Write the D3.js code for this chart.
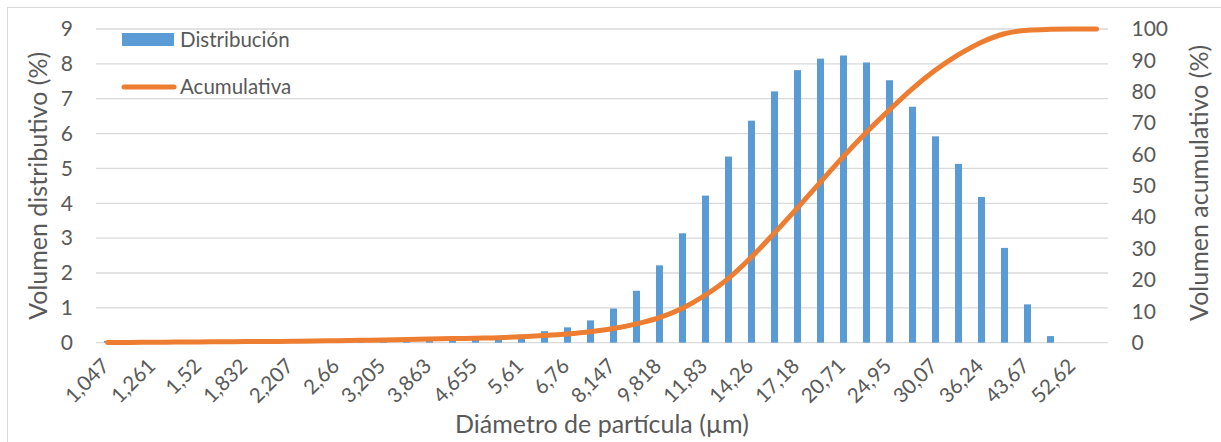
<!DOCTYPE html>
<html>
<head>
<meta charset="utf-8">
<script src="https://cdn.jsdelivr.net/npm/d3@7"></script>
<style>
  body { margin: 0; background: #fff; }
  text { font-family: Lato, "Open Sans", sans-serif; fill: #595959; }
</style>
</head>
<body>
<svg id="chart" width="1221" height="442"></svg>
<script>
// Particle size classes (µm)
const diameters = [
  "1,047", "1,149", "1,261", "1,384", "1,52", "1,668", "1,832", "2,011",
  "2,207", "2,423", "2,66", "2,92", "3,205", "3,519", "3,863", "4,241",
  "4,655", "5,11", "5,61", "6,158", "6,76", "7,421", "8,147", "8,943",
  "9,818", "10,78", "11,83", "12,99", "14,26", "15,65", "17,18", "18,86",
  "20,71", "22,73", "24,95", "27,39", "30,07", "33,01", "36,24", "39,78",
  "43,67", "47,94", "52,62", "57,77"
];

// Labels printed on the size axis
const tickLabels = [
  "1,047", "1,261", "1,52", "1,832", "2,207", "2,66", "3,205", "3,863",
  "4,655", "5,61", "6,76", "8,147", "9,818", "11,83", "14,26", "17,18",
  "20,71", "24,95", "30,07", "36,24", "43,67", "52,62"
];

// Volume fraction per class (%)
const distribution = [
  0.05, 0.05, 0.05, 0.05, 0.05, 0.05, 0.05, 0.05,
  0.05, 0.10, 0.10, 0.10, 0.10, 0.12, 0.12, 0.12,
  0.12, 0.15, 0.23, 0.33, 0.44, 0.64, 0.98, 1.49,
  2.22, 3.14, 4.22, 5.34, 6.37, 7.21, 7.82, 8.15,
  8.24, 8.04, 7.53, 6.77, 5.92, 5.13, 4.18, 2.72,
  1.10, 0.19, 0, 0
];

// Cumulative volume (%)
const cumulative = [
  0.05, 0.1, 0.15, 0.2, 0.25, 0.3, 0.35, 0.4,
  0.45, 0.55, 0.65, 0.75, 0.85, 1.0, 1.15, 1.3,
  1.45, 1.6, 1.9, 2.3, 2.8, 3.5, 4.5, 6.0,
  8.0, 11.0, 15.2, 20.5, 27.3, 35.0, 43.0, 51.2,
  59.4, 67.1, 74.2, 81.0, 86.9, 91.8, 95.8, 98.5,
  99.6, 99.9, 100, 100
];

const leftTicks = [0, 1, 2, 3, 4, 5, 6, 7, 8, 9];
const rightTicks = [0, 10, 20, 30, 40, 50, 60, 70, 80, 90, 100];

const svg = d3.select("#chart");
const plot = { left: 96, right: 1108, top: 29, bottom: 342.7 };

const x = d3.scaleBand()
  .domain(diameters)
  .range([plot.left, plot.right])
  .paddingInner(16 / 23)
  .paddingOuter(8 / 23);
const cx = d => x(d) + x.bandwidth() / 2;

const yLeft = d3.scaleLinear().domain([0, 9]).range([plot.bottom, plot.top]);
const yRight = d3.scaleLinear().domain([0, 100]).range([plot.bottom, plot.top]);

// Outer frame
svg.append("rect")
  .attr("x", 7.5).attr("y", 7.5)
  .attr("width", 1240).attr("height", 460)
  .attr("fill", "none").attr("stroke", "#D9D9D9").attr("stroke-width", 1);

// Horizontal gridlines
svg.append("g")
  .selectAll("line")
  .data(leftTicks)
  .join("line")
  .attr("x1", plot.left).attr("x2", plot.right)
  .attr("y1", d => yLeft(d)).attr("y2", d => yLeft(d))
  .attr("stroke", "#D9D9D9").attr("stroke-width", 1.3);

// Distribution bars
svg.append("g")
  .selectAll("rect")
  .data(diameters.map((d, i) => ({ d, v: distribution[i] })))
  .join("rect")
  .attr("x", p => x(p.d))
  .attr("width", x.bandwidth())
  .attr("y", p => yLeft(p.v))
  .attr("height", p => yLeft(0) - yLeft(p.v))
  .attr("fill", "#5B9BD5");

// Cumulative curve
const line = d3.line()
  .x(p => cx(p.d))
  .y(p => yRight(p.v))
  .curve(d3.curveMonotoneX);
svg.append("path")
  .datum(diameters.map((d, i) => ({ d, v: cumulative[i] })))
  .attr("d", line)
  .attr("fill", "none")
  .attr("stroke", "#ED7D31")
  .attr("stroke-width", 5)
  .attr("stroke-linecap", "round")
  .attr("stroke-linejoin", "round");

// Left axis labels
const gLeft = svg.append("g")
  .attr("transform", `translate(${plot.left},0)`)
  .call(d3.axisLeft(yLeft).tickValues(leftTicks).tickSize(0).tickPadding(23));
gLeft.select(".domain").remove();
gLeft.selectAll("text").style("font-size", "21px").attr("fill", "#595959");

// Right axis labels
const gRight = svg.append("g")
  .attr("transform", `translate(${plot.right},0)`)
  .call(d3.axisRight(yRight).tickValues(rightTicks).tickSize(0).tickPadding(23.5));
gRight.select(".domain").remove();
gRight.selectAll("text").style("font-size", "21px").attr("fill", "#595959");

// Bottom axis labels, rotated
const gBottom = svg.append("g")
  .attr("transform", `translate(0,${plot.bottom})`)
  .call(d3.axisBottom(x).tickValues(tickLabels).tickSize(0));
gBottom.select(".domain").remove();
gBottom.selectAll("text")
  .style("font-size", "20.5px")
  .attr("fill", "#595959")
  .attr("x", 0).attr("y", 0)
  .attr("dy", "0.35em")
  .attr("text-anchor", "end")
  .attr("transform", "translate(-2,19.5) rotate(-45)");

// Axis titles
svg.append("text")
  .attr("transform", `translate(38,${(plot.top + plot.bottom) / 2}) rotate(-90)`)
  .attr("text-anchor", "middle").attr("dy", "0.35em")
  .style("font-size", "25px")
  .text("Volumen distributivo (%)");

svg.append("text")
  .attr("transform", `translate(1199,${(plot.top + plot.bottom) / 2 - 3}) rotate(-90)`)
  .attr("text-anchor", "middle").attr("dy", "0.35em")
  .style("font-size", "25px")
  .text("Volumen acumulativo (%)");

svg.append("text")
  .attr("x", (plot.left + plot.right) / 2)
  .attr("y", 433)
  .attr("text-anchor", "middle")
  .style("font-size", "25px")
  .text("Diámetro de partícula (µm)");

// Legend
const legend = svg.append("g");
legend.append("rect")
  .attr("x", 122).attr("y", 33).attr("width", 52).attr("height", 13)
  .attr("fill", "#5B9BD5");
legend.append("text")
  .attr("x", 180).attr("y", 40).attr("dy", "0.35em")
  .style("font-size", "20.5px")
  .text("Distribución");
legend.append("line")
  .attr("x1", 124).attr("x2", 174).attr("y1", 87).attr("y2", 87)
  .attr("stroke", "#ED7D31").attr("stroke-width", 5).attr("stroke-linecap", "round");
legend.append("text")
  .attr("x", 180).attr("y", 87).attr("dy", "0.35em")
  .style("font-size", "20.5px")
  .text("Acumulativa");
</script>
</body>
</html>
